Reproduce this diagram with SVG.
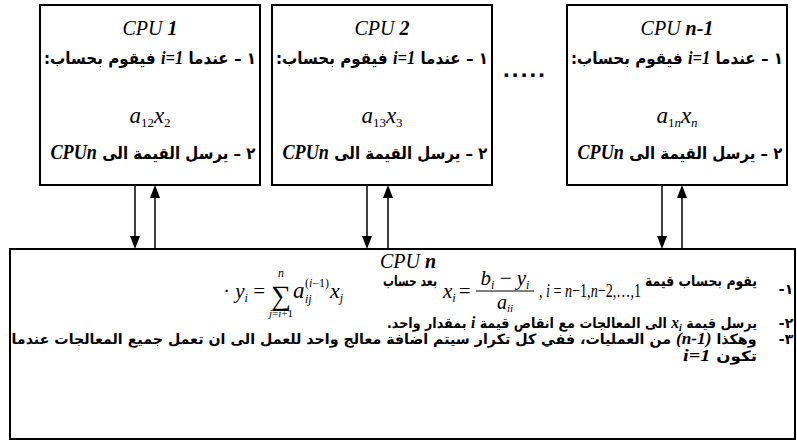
<svg xmlns="http://www.w3.org/2000/svg" width="797" height="441" viewBox="0 0 797 441">
<defs>
<style>
.box{fill:#fff;stroke:#000;stroke-width:2}
.ar{font-family:"DejaVu Sans","Liberation Sans",sans-serif;font-weight:bold;fill:#000}
.tt{font-family:"Liberation Serif",serif;font-style:italic;font-size:20px;fill:#000}
.mi{font-family:"Liberation Serif",serif;font-style:italic;font-weight:bold}
.m{font-family:"Liberation Serif",serif;font-style:italic;fill:#000}
.up{font-style:normal}
.conn line{stroke:#000;stroke-width:1.5}
.conn polygon{fill:#000}
</style>
</defs>
<rect width="797" height="441" fill="#fff"/>

<g id="cpu1">
<rect class="box" x="40" y="5" width="220" height="180"/>
<text class="tt" x="150" y="35" text-anchor="middle">CPU <tspan font-weight="bold">1</tspan></text>
<text class="ar" font-size="16.5" x="150" y="64" text-anchor="middle" direction="rtl" textLength="212" lengthAdjust="spacingAndGlyphs">١ – عندما <tspan class="mi" font-size="18">i=1</tspan> فيقوم بحساب:</text>
<text class="m" font-size="23" x="150" y="123" text-anchor="middle">a<tspan class="up" font-size="13" baseline-shift="-4">12</tspan>x<tspan class="up" font-size="13" baseline-shift="-4">2</tspan></text>
<text class="ar" font-size="16.5" x="153" y="159" text-anchor="middle" direction="rtl" textLength="205" lengthAdjust="spacingAndGlyphs">٢ – يرسل القيمة الى <tspan class="mi" font-weight="normal" font-size="20">CPU<tspan font-weight="bold">n</tspan></tspan></text>
</g>

<g id="cpu2">
<rect class="box" x="272" y="5" width="220" height="180"/>
<text class="tt" x="382" y="35" text-anchor="middle">CPU <tspan font-weight="bold">2</tspan></text>
<text class="ar" font-size="16.5" x="382" y="64" text-anchor="middle" direction="rtl" textLength="212" lengthAdjust="spacingAndGlyphs">١ – عندما <tspan class="mi" font-size="18">i=1</tspan> فيقوم بحساب:</text>
<text class="m" font-size="23" x="382" y="123" text-anchor="middle">a<tspan class="up" font-size="13" baseline-shift="-4">13</tspan>x<tspan class="up" font-size="13" baseline-shift="-4">3</tspan></text>
<text class="ar" font-size="16.5" x="385" y="159" text-anchor="middle" direction="rtl" textLength="205" lengthAdjust="spacingAndGlyphs">٢ – يرسل القيمة الى <tspan class="mi" font-weight="normal" font-size="20">CPU<tspan font-weight="bold">n</tspan></tspan></text>
</g>

<g id="dots">
<text x="524" y="77" text-anchor="middle" font-family="Liberation Sans, sans-serif" font-weight="bold" font-size="24" textLength="42" lengthAdjust="spacing">.....</text>
</g>

<g id="cpu_n_1">
<rect class="box" x="567" y="5" width="220" height="180"/>
<text class="tt" x="677" y="35" text-anchor="middle">CPU <tspan font-weight="bold">n-1</tspan></text>
<text class="ar" font-size="16.5" x="677" y="64" text-anchor="middle" direction="rtl" textLength="212" lengthAdjust="spacingAndGlyphs">١ – عندما <tspan class="mi" font-size="18">i=1</tspan> فيقوم بحساب:</text>
<text class="m" font-size="23" x="677" y="123" text-anchor="middle">a<tspan font-size="13" baseline-shift="-4"><tspan class="up">1</tspan>n</tspan>x<tspan font-size="13" baseline-shift="-4">n</tspan></text>
<text class="ar" font-size="16.5" x="680" y="159" text-anchor="middle" direction="rtl" textLength="205" lengthAdjust="spacingAndGlyphs">٢ – يرسل القيمة الى <tspan class="mi" font-weight="normal" font-size="20">CPU<tspan font-weight="bold">n</tspan></tspan></text>
</g>

<g id="cpu_n">
<rect class="box" x="10" y="249" width="785" height="190"/>
<text class="tt" x="408" y="268" text-anchor="middle">CPU <tspan font-weight="bold">n</tspan></text>
<!-- row 1 -->
<text class="ar" font-size="14" x="786" y="294" text-anchor="middle" direction="rtl">١-</text>
<text class="ar" font-size="14.5" x="701" y="286" text-anchor="middle" direction="rtl" textLength="112" lengthAdjust="spacingAndGlyphs">يقوم بحساب قيمة</text>
<text class="m" font-size="19" x="590" y="297" text-anchor="middle" textLength="102" lengthAdjust="spacingAndGlyphs"><tspan class="up">, </tspan>i<tspan class="up"> = </tspan>n<tspan class="up">−1,</tspan>n<tspan class="up">−2,…,1</tspan></text>
<text class="m" font-size="21" x="443" y="298">x<tspan font-size="12" baseline-shift="-4">i</tspan><tspan class="up" dx="3">=</tspan></text>
<text class="m" font-size="21" x="505" y="285" text-anchor="middle">b<tspan font-size="12" baseline-shift="-4">i</tspan><tspan class="up"> − </tspan>y<tspan font-size="12" baseline-shift="-4">i</tspan></text>
<line x1="476" y1="291" x2="534" y2="291" stroke="#000" stroke-width="1"/>
<text class="m" font-size="20" x="505" y="309" text-anchor="middle">a<tspan font-size="11" baseline-shift="-3">ii</tspan></text>
<text class="ar" font-size="14.5" x="410" y="286" text-anchor="middle" direction="rtl" textLength="54" lengthAdjust="spacingAndGlyphs">بعد حساب</text>
<text class="m" font-size="21" x="223" y="298"><tspan class="up">· </tspan>y<tspan font-size="12" baseline-shift="-4">i</tspan><tspan class="up"> = </tspan></text>
<text x="281" y="305" text-anchor="middle" font-family="Liberation Serif, serif" font-size="28">∑</text>
<text class="m" font-size="12" x="281" y="277" text-anchor="middle">n</text>
<text class="m" font-size="11" x="281" y="317" text-anchor="middle">j<tspan class="up">=</tspan>i<tspan class="up">+1</tspan></text>
<text class="m" font-size="23" x="293" y="298">a</text>
<text class="m" font-size="12" x="305" y="287"><tspan class="up">(</tspan>i<tspan class="up">−1)</tspan></text>
<text class="m" font-size="12" x="305" y="303">ij</text>
<text class="m" font-size="22" x="330" y="298">x<tspan font-size="12" baseline-shift="-4">j</tspan></text>
<!-- row 2 -->
<text class="ar" font-size="14" x="786" y="328" text-anchor="middle" direction="rtl">٢-</text>
<text class="ar" font-size="14" x="572" y="328" text-anchor="middle" direction="rtl" textLength="370" lengthAdjust="spacingAndGlyphs">يرسل قيمة <tspan class="mi" font-size="17">x<tspan font-size="11" baseline-shift="-3">i</tspan></tspan> الى المعالجات مع انقاص قيمة <tspan class="mi" font-size="17">i</tspan> بمقدار واحد.</text>
<!-- row 3 -->
<text class="ar" font-size="14" x="786" y="344" text-anchor="middle" direction="rtl">٣-</text>
<text class="ar" font-size="14" x="384" y="344" text-anchor="middle" direction="rtl" textLength="745" lengthAdjust="spacingAndGlyphs">وهكذا <tspan class="mi" font-size="17">(n-1)</tspan> من العمليات، ففي كل تكرار سيتم اضافة معالج واحد للعمل الى ان تعمل جميع المعالجات عندما</text>
<!-- row 4 -->
<text class="ar" font-size="14" x="720" y="361" text-anchor="middle" direction="rtl" textLength="74" lengthAdjust="spacingAndGlyphs">تكون <tspan class="mi" font-size="17">i=1</tspan></text>
</g>

<g id="connectors" class="conn">
<line x1="135" y1="185" x2="135" y2="238"/>
<polygon points="130,236 140,236 135,249"/>
<line x1="155" y1="249" x2="155" y2="196"/>
<polygon points="150,198 160,198 155,185"/>
<line x1="367" y1="185" x2="367" y2="238"/>
<polygon points="362,236 372,236 367,249"/>
<line x1="388" y1="249" x2="388" y2="196"/>
<polygon points="383,198 393,198 388,185"/>
<line x1="662" y1="185" x2="662" y2="238"/>
<polygon points="657,236 667,236 662,249"/>
<line x1="682" y1="249" x2="682" y2="196"/>
<polygon points="677,198 687,198 682,185"/>
</g>
</svg>
